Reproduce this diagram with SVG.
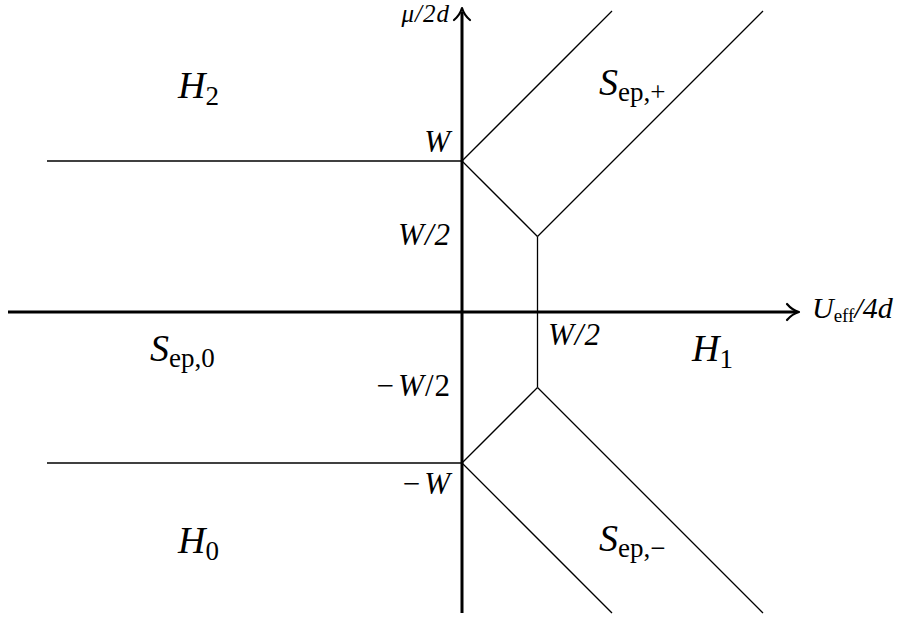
<svg xmlns="http://www.w3.org/2000/svg" width="906" height="621" viewBox="0 0 906 621">
<style>
.ax{stroke:#000;stroke-width:3;fill:none}
.ln{stroke:#000;stroke-width:1.3;fill:none}
.ahd{stroke:#000;stroke-width:2.2;fill:none;stroke-linecap:round;stroke-linejoin:round}
text{font-family:"Liberation Serif","DejaVu Serif",serif;fill:#000}
.it{font-style:italic}
.tk{font-size:31px;letter-spacing:1px}
.rg{font-size:38px}
.sub{font-style:normal;font-size:27px}
</style>
<rect width="906" height="621" fill="#fff"/>
<g id="connectors">
<line class="ax" x1="8" y1="312" x2="797" y2="312"/>
<path class="ahd" d="M787,304 Q792,310 799,312 Q792,314 787,320"/>
<line class="ax" x1="462" y1="613" x2="462" y2="12"/>
<path class="ahd" d="M454,20 Q460,15 462,8 Q464,15 470,20"/>
<line class="ln" x1="47" y1="161" x2="462" y2="161"/>
<line class="ln" x1="462" y1="161" x2="612" y2="11"/>
<line class="ln" x1="462" y1="161" x2="537.5" y2="236.5"/>
<line class="ln" x1="537.5" y1="236.5" x2="763" y2="11"/>
<line class="ln" x1="537.5" y1="236.5" x2="537.5" y2="387.5"/>
<line class="ln" x1="537.5" y1="387.5" x2="462" y2="463"/>
<line class="ln" x1="537.5" y1="387.5" x2="763" y2="613"/>
<line class="ln" x1="462" y1="463" x2="612" y2="613"/>
<line class="ln" x1="47" y1="463" x2="462" y2="463"/>
</g>
<g id="axis-labels">
<text class="it" font-size="25" x="450" y="22" text-anchor="end" letter-spacing="1">μ/2d</text>
<text font-size="30" x="812" y="318"><tspan class="it">U</tspan><tspan font-size="19" dy="4">eff</tspan><tspan dy="-4" class="it">/4d</tspan></text>
</g>
<g id="tick-labels">
<text class="tk it" x="451" y="152" text-anchor="end">W</text>
<text class="tk it" x="451" y="245" text-anchor="end">W/2</text>
<text class="tk it" x="548" y="345">W/2</text>
<text class="tk" x="451" y="396" text-anchor="end">−<tspan class="it" dx="3">W</tspan>/2</text>
<text class="tk" x="451" y="494" text-anchor="end">−<tspan class="it" dx="3">W</tspan></text>
</g>
<g id="region-H2"><text class="rg it" x="178" y="98">H<tspan class="sub" dy="7">2</tspan></text></g>
<g id="region-Sep-plus"><text class="rg it" x="599" y="95">S<tspan class="sub" dy="6">ep,+</tspan></text></g>
<g id="region-Sep-0"><text class="rg it" x="150" y="361">S<tspan class="sub" dy="6">ep,0</tspan></text></g>
<g id="region-H1"><text class="rg it" x="692" y="361">H<tspan class="sub" dy="7">1</tspan></text></g>
<g id="region-H0"><text class="rg it" x="178" y="553">H<tspan class="sub" dy="7">0</tspan></text></g>
<g id="region-Sep-minus"><text class="rg it" x="599" y="551">S<tspan class="sub" dy="6">ep,−</tspan></text></g>
</svg>
